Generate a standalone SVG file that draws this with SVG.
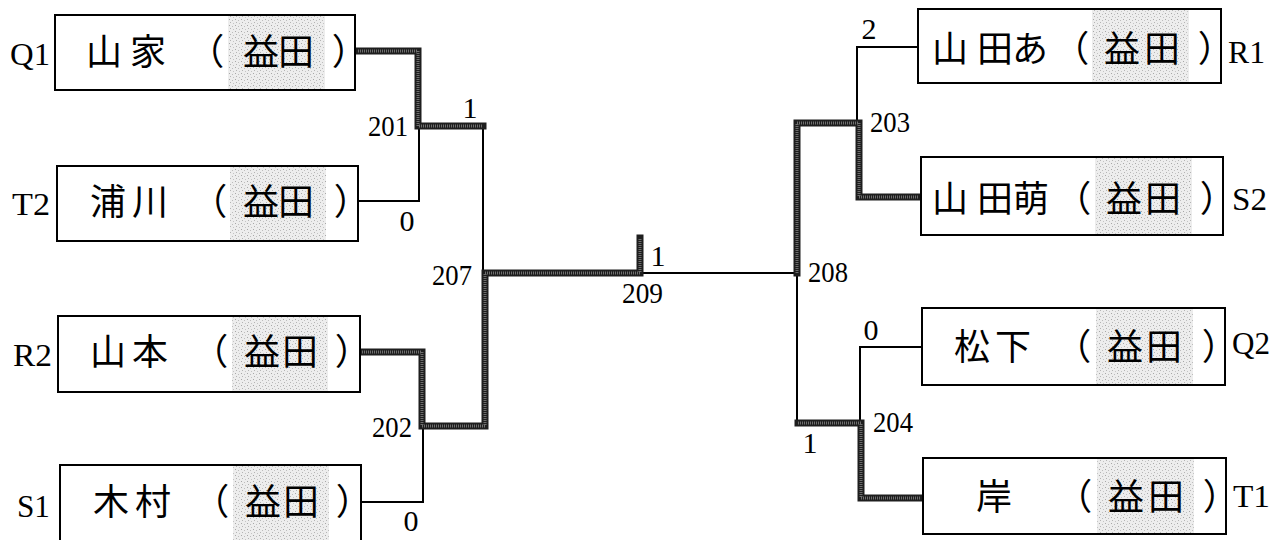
<svg xmlns="http://www.w3.org/2000/svg" width="1285" height="540" viewBox="0 0 1285 540">
<defs>
<pattern id="dots" width="6" height="6" patternUnits="userSpaceOnUse">
<rect width="6" height="6" fill="#ededed"/>
<rect x="1" y="1" width="1" height="1" fill="#a8a8a8"/>
<rect x="4" y="2" width="1" height="1" fill="#bdbdbd"/>
<rect x="2" y="4" width="1" height="1" fill="#b4b4b4"/>
<rect x="5" y="5" width="1" height="1" fill="#c4c4c4"/>
</pattern>
<style>
.box{fill:#fff;stroke:#000;stroke-width:2}
.shade{fill:url(#dots)}
.nm{font-family:"Noto Sans CJK JP","Noto Sans CJK SC",sans-serif;font-size:36px;fill:#000;text-anchor:middle}
.pr{font-family:"Noto Sans CJK JP","Noto Sans CJK SC",sans-serif;font-size:36px;fill:#000;text-anchor:middle;font-feature-settings:"palt" 1}
.lb{font-family:"Liberation Serif",serif;font-size:31px;fill:#000}
.num{font-family:"Liberation Serif",serif;font-size:30px;fill:#000}
.mid{text-anchor:middle}
.thin{fill:none;stroke:#000;stroke-width:2}
.thickA{fill:none;stroke:#1e1e1e;stroke-width:7;stroke-linejoin:miter;stroke-linecap:square}
.thickB{fill:none;stroke:#6e6e6e;stroke-width:3;stroke-dasharray:1 1;stroke-linejoin:miter}
</style>
</defs>
<rect width="1285" height="540" fill="#fff"/>

<g id="connectors">
<path class="thin" d="M358 201 H419 V126"/>
<path class="thin" d="M483 126 V273"/>
<path class="thin" d="M361 502 H423 V426"/>
<path class="thin" d="M643 273 H797"/>
<path class="thin" d="M918 47 H857 V123"/>
<path class="thin" d="M922 347 H860 V423"/>
<path class="thin" d="M797 273 V423"/>
<path class="thickA" d="M358 51 H418 V126 H483"/>
<path class="thickB" d="M358 51 H418 V126 H483"/>
<path class="thickA" d="M362 352 H422 V426 H485 V273 H640 V238"/>
<path class="thickB" d="M362 352 H422 V426 H485 V273 H640 V238"/>
<path class="thickA" d="M797 273 V123 H859 V197 H919"/>
<path class="thickB" d="M797 273 V123 H859 V197 H919"/>
<path class="thickA" d="M798 423 H861 V498 H921"/>
<path class="thickB" d="M798 423 H861 V498 H921"/>
</g>

<g id="Q1">
<rect class="box" x="55" y="15" width="300" height="75"/>
<rect class="shade" x="228" y="16" width="97" height="73"/>
<text class="nm" x="104 148" y="65">山家</text>
<text class="pr" x="214" y="65">（</text>
<text class="nm" x="261 296" y="65">益田</text>
<text class="pr" x="342" y="65">）</text>
<text class="lb" x="10" y="65" textLength="40" lengthAdjust="spacingAndGlyphs">Q1</text>
</g>

<g id="T2">
<rect class="box" x="57" y="166" width="301" height="75"/>
<rect class="shade" x="230" y="167" width="96" height="73"/>
<text class="nm" x="108 150" y="215">浦川</text>
<text class="pr" x="217" y="215">（</text>
<text class="nm" x="261 296" y="215">益田</text>
<text class="pr" x="344" y="215">）</text>
<text class="lb" x="12" y="215" textLength="38" lengthAdjust="spacingAndGlyphs">T2</text>
</g>

<g id="R2">
<rect class="box" x="58" y="316" width="302" height="76"/>
<rect class="shade" x="232" y="317" width="96" height="74"/>
<text class="nm" x="108 150" y="365">山本</text>
<text class="pr" x="218" y="365">（</text>
<text class="nm" x="262 300" y="365">益田</text>
<text class="pr" x="345" y="365">）</text>
<text class="lb" x="13" y="366" textLength="39" lengthAdjust="spacingAndGlyphs">R2</text>
</g>

<g id="S1">
<rect class="box" x="60" y="465" width="301" height="80"/>
<rect class="shade" x="233" y="466" width="96" height="74"/>
<text class="nm" x="111 153" y="515">木村</text>
<text class="pr" x="219" y="515">（</text>
<text class="nm" x="263 301" y="515">益田</text>
<text class="pr" x="346" y="515">）</text>
<text class="lb" x="17" y="517" textLength="33" lengthAdjust="spacingAndGlyphs">S1</text>
</g>

<g id="R1">
<rect class="box" x="918" y="9" width="303" height="74"/>
<rect class="shade" x="1092" y="10" width="97" height="72"/>
<text class="nm" x="950 995 1030" y="62">山田あ</text>
<text class="pr" x="1079" y="62">（</text>
<text class="nm" x="1122 1162" y="62">益田</text>
<text class="pr" x="1208" y="62">）</text>
<text class="lb" x="1228" y="63" textLength="37" lengthAdjust="spacingAndGlyphs">R1</text>
</g>

<g id="S2">
<rect class="box" x="921" y="157" width="302" height="78"/>
<rect class="shade" x="1095" y="158" width="97" height="76"/>
<text class="nm" x="950 995 1031" y="212">山田萌</text>
<text class="pr" x="1081" y="212">（</text>
<text class="nm" x="1124 1163" y="212">益田</text>
<text class="pr" x="1210" y="212">）</text>
<text class="lb" x="1232" y="210" textLength="35" lengthAdjust="spacingAndGlyphs">S2</text>
</g>

<g id="Q2">
<rect class="box" x="922" y="308" width="303" height="77"/>
<rect class="shade" x="1096" y="309" width="97" height="75"/>
<text class="nm" x="972 1013" y="360">松下</text>
<text class="pr" x="1081" y="360">（</text>
<text class="nm" x="1125 1164" y="360">益田</text>
<text class="pr" x="1212" y="360">）</text>
<text class="lb" x="1232" y="354" textLength="38" lengthAdjust="spacingAndGlyphs">Q2</text>
</g>

<g id="T1">
<rect class="box" x="923" y="458" width="303" height="76"/>
<rect class="shade" x="1097" y="459" width="97" height="74"/>
<text class="nm" x="994" y="510">岸</text>
<text class="pr" x="1082" y="510">（</text>
<text class="nm" x="1126 1166" y="510">益田</text>
<text class="pr" x="1213" y="510">）</text>
<text class="lb" x="1233" y="507" textLength="37" lengthAdjust="spacingAndGlyphs">T1</text>
</g>

<g id="scores">
<text class="num" x="368" y="136" textLength="40" lengthAdjust="spacingAndGlyphs">201</text>
<text class="num mid" x="470" y="118">1</text>
<text class="num mid" x="407" y="231">0</text>
<text class="num" x="372" y="437" textLength="40" lengthAdjust="spacingAndGlyphs">202</text>
<text class="num mid" x="411" y="531">0</text>
<text class="num" x="432" y="285" textLength="40" lengthAdjust="spacingAndGlyphs">207</text>
<text class="num mid" x="658" y="266">1</text>
<text class="num" x="622" y="303" textLength="41" lengthAdjust="spacingAndGlyphs">209</text>
<text class="num" x="808" y="282" textLength="40" lengthAdjust="spacingAndGlyphs">208</text>
<text class="num mid" x="869" y="39">2</text>
<text class="num" x="870" y="132" textLength="40" lengthAdjust="spacingAndGlyphs">203</text>
<text class="num mid" x="871" y="340">0</text>
<text class="num" x="873" y="432" textLength="40" lengthAdjust="spacingAndGlyphs">204</text>
<text class="num mid" x="810" y="453">1</text>
</g>
</svg>
